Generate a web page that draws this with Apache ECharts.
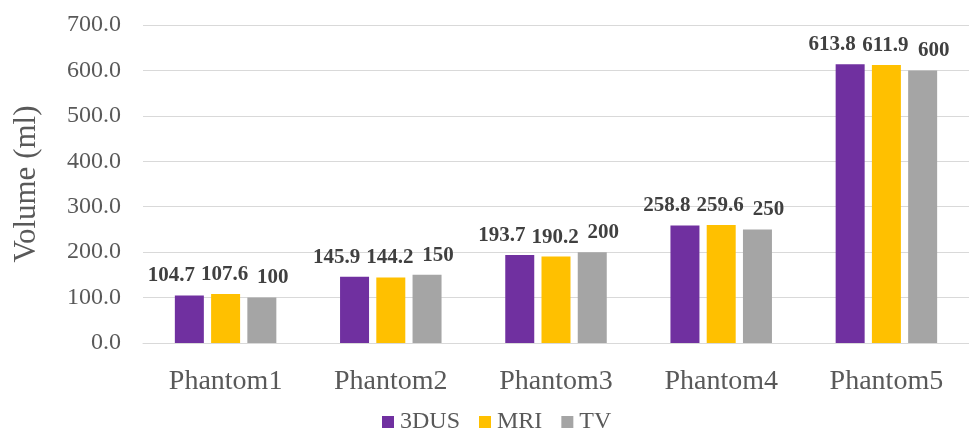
<!DOCTYPE html>
<html>
<head>
<meta charset="utf-8">
<script src="https://cdn.jsdelivr.net/npm/echarts@6/dist/echarts.min.js"></script>
<style>
  html, body { margin: 0; padding: 0; background: #fff; }
  #chart { width: 969px; height: 432px; }
</style>
</head>
<body>
<div id="chart"></div>
<script>
// Measured volumes per phantom
const categories = ['Phantom1', 'Phantom2', 'Phantom3', 'Phantom4', 'Phantom5'];
const seriesNames = ['3DUS', 'MRI', 'TV'];
const dus = [104.7, 145.9, 193.7, 258.8, 613.8];
const mri = [107.6, 144.2, 190.2, 259.6, 611.9];
const tv = [100, 150, 200, 250, 600];
const colors = ['#7030A0', '#FFC000', '#A5A5A5'];

const font = 'Liberation Serif, Times New Roman, serif';

// value labels are spread sideways a little so neighbouring labels don't collide
function barSeries(name, data, color, labelShift) {
  return {
    name: name,
    type: 'bar',
    data: data,
    barWidth: 29,
    barGap: '25%',
    itemStyle: { color: color },
    label: {
      show: true,
      position: 'top',
      distance: 9,
      offset: [labelShift, 0],
      fontFamily: font,
      fontWeight: 'bold',
      fontSize: 21,
      color: '#404040',
      formatter: p => String(p.value)
    }
  };
}

const chart = echarts.init(document.getElementById('chart'));
chart.setOption({
  animation: false,
  color: colors,
  grid: { left: 143, right: 0, top: 25, bottom: 89 },
  legend: {
    top: 405,
    left: 377,
    itemWidth: 12,
    itemHeight: 12,
    itemGap: 19,
    icon: 'rect',
    textStyle: { fontFamily: font, fontSize: 24, color: '#595959', padding: [0, 0, 0, 1] },
    data: seriesNames
  },
  xAxis: {
    type: 'category',
    data: categories,
    axisLine: { lineStyle: { color: '#D9D9D9' } },
    axisTick: { show: false },
    axisLabel: { fontFamily: font, fontSize: 28, color: '#595959', margin: 25 }
  },
  yAxis: {
    type: 'value',
    min: 0,
    max: 700,
    interval: 100,
    name: 'Volume (ml)',
    nameLocation: 'middle',
    nameGap: 101,
    nameTextStyle: { fontFamily: font, fontSize: 31, color: '#595959' },
    axisLine: { show: false },
    axisTick: { show: false },
    splitLine: { lineStyle: { color: '#D9D9D9' } },
    axisLabel: {
      fontFamily: font,
      fontSize: 24,
      color: '#595959',
      margin: 22,
      formatter: v => v.toFixed(1)
    }
  },
  series: [
    barSeries(seriesNames[0], dus, colors[0], -18),
    barSeries(seriesNames[1], mri, colors[1], -1),
    barSeries(seriesNames[2], tv, colors[2], 11)
  ]
});
</script>
</body>
</html>
